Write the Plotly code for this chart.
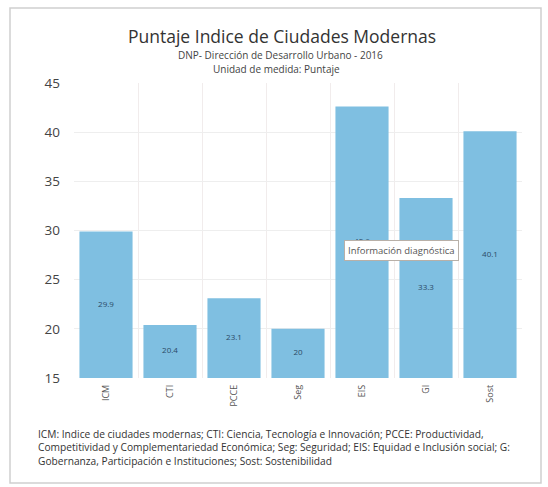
import plotly.graph_objects as go

# Puntaje por dimensión del índice
categorias = ["ICM", "CTI", "PCCE", "Seg", "EIS", "GI", "Sost"]
puntajes = [29.9, 20.4, 23.1, 20.0, 42.6, 33.3, 40.1]
etiquetas = ["29.9", "20.4", "23.1", "20", "42.6", "33.3", "40.1"]

titulo = "Puntaje Indice de Ciudades Modernas"
subtitulo_1 = "DNP- Dirección de Desarrollo Urbano - 2016"
subtitulo_2 = "Unidad de medida: Puntaje"
nota = ("ICM: Indice de ciudades modernas; CTI: Ciencia, Tecnología e Innovación; PCCE: Productividad,<br>"
        "Competitividad y Complementariedad Económica; Seg: Seguridad; EIS: Equidad e Inclusión social; G:<br>"
        "Gobernanza, Participación e Instituciones; Sost: Sostenibilidad")
tooltip = "Información diagnóstica"

Y_MIN, Y_MAX = 15, 45

W, H = 548, 487
M_L, M_R, M_T, M_B = 74, 26, 83, 109
PW, PH = W - M_L - M_R, H - M_T - M_B


def px_x(x):
    return (x - M_L) / PW


def px_y(y):
    return (H - M_B - y) / PH


FONT = "Open Sans"

fig = go.Figure()
fig.add_trace(
    go.Bar(
        x=categorias,
        y=puntajes,
        marker=dict(color="#7fbfe1", line=dict(width=0)),
        hoverinfo="x+y",
    )
)
# Etiquetas centradas en la parte visible de cada barra
fig.add_trace(
    go.Scatter(
        x=categorias,
        y=[(v + Y_MIN) / 2 for v in puntajes],
        text=etiquetas,
        mode="text",
        textposition="middle center",
        textfont=dict(size=8, color="#2b4a66", family=FONT),
        hoverinfo="skip",
    )
)

fig.update_layout(
    width=W,
    height=H,
    margin=dict(l=M_L, r=M_R, t=M_T, b=M_B),
    paper_bgcolor="white",
    plot_bgcolor="white",
    bargap=0.17,
    showlegend=False,
    font=dict(family=FONT, color="#444"),
    xaxis=dict(
        tickangle=-90,
        tickson="boundaries",
        showgrid=True,
        gridcolor="#f1ecec",
        gridwidth=1,
        ticks="",
        showline=False,
        tickfont=dict(size=9, color="#555"),
        ticklabelstandoff=4,
    ),
    yaxis=dict(
        range=[Y_MIN, Y_MAX],
        dtick=5,
        showgrid=True,
        gridcolor="#eeeeee",
        zeroline=False,
        showline=False,
        ticks="",
        tickfont=dict(size=13.5, color="#444"),
        ticklabelstandoff=13,
    ),
)

annotations = [
    dict(text=titulo, x=px_x(282), y=px_y(36), font=dict(size=17.5, color="#333")),
    dict(text=subtitulo_1, x=px_x(280), y=px_y(55), font=dict(size=10, color="#444")),
    dict(text=subtitulo_2, x=px_x(276), y=px_y(68.5), font=dict(size=10, color="#444")),
    dict(text=nota, x=px_x(36), y=px_y(447), xanchor="left", align="left",
         font=dict(size=10.2, color="#333")),
    dict(text=tooltip, x=px_x(401), y=px_y(250), font=dict(size=9.5, color="#555"),
         bgcolor="white", bordercolor="#b8b0a8", borderwidth=1, borderpad=3),
]
for a in annotations:
    a.update(xref="paper", yref="paper", showarrow=False)
    a.setdefault("xanchor", "center")
    a.setdefault("yanchor", "middle")
fig.update_layout(annotations=annotations)

# Marco de la tarjeta
fig.add_shape(
    type="rect", xref="paper", yref="paper",
    x0=px_x(10), x1=px_x(541), y0=px_y(483), y1=px_y(8),
    line=dict(color="#cfcfcf", width=1.5), layer="below",
)

fig.write_html("out.html")
